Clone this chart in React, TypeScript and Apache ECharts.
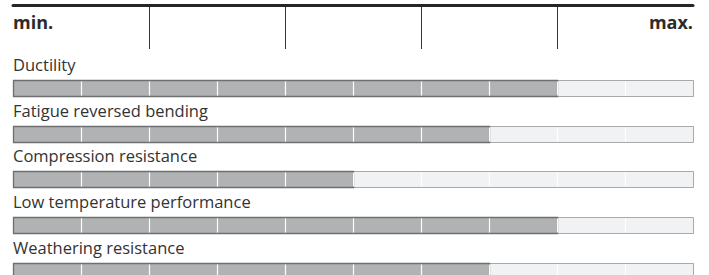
import React, { useEffect, useRef } from "react";
import * as echarts from "echarts";

const categories = [
  "Ductility",
  "Fatigue reversed bending",
  "Compression resistance",
  "Low temperature performance",
  "Weathering resistance",
];
const ratings = [8, 7, 5, 8, 7];
const scaleMin = 0;
const scaleMax = 10;
const tickLabels: Record<number, string> = { 0: "min.", 10: "max." };

const FONT = "'Open Sans', 'Noto Sans', sans-serif";

export default function App() {
  const ref = useRef<HTMLDivElement>(null);
  useEffect(() => {
    if (!ref.current) return;
    const chart = echarts.init(ref.current, null, { renderer: "svg" });
    const data = ratings.map((v, i) => [v, i]);
    chart.setOption({
      animation: false,
      grid: [
        { left: 13, right: 16, top: 5, height: 44 },
        { left: 13, right: 16, top: 65, bottom: 0 },
      ],
      xAxis: [
        {
          gridIndex: 0,
          type: "value",
          min: scaleMin,
          max: scaleMax,
          interval: 2,
          position: "top",
          axisLine: { show: true, onZero: false, lineStyle: { color: "#262626", width: 3 } },
          axisTick: { show: false },
          splitLine: {
            show: true,
            showMinLine: false,
            showMaxLine: false,
            lineStyle: { color: "#333333", width: 1 },
          },
          axisLabel: {
            inside: true,
            margin: 17,
            verticalAlign: "middle",
            alignMinLabel: "left",
            alignMaxLabel: "right",
            formatter: (v: number) => tickLabels[v] ?? "",
            fontFamily: FONT,
            fontWeight: "bold",
            fontSize: 18,
            color: "#2b2b2b",
          },
        },
        {
          gridIndex: 1,
          type: "value",
          min: scaleMin,
          max: scaleMax,
          show: false,
        },
      ],
      yAxis: [
        { gridIndex: 0, type: "value", show: false, min: 0, max: 1 },
        {
          gridIndex: 1,
          type: "value",
          inverse: true,
          min: -0.5,
          max: -0.5 + 210 / 45.75,
          show: false,
        },
      ],
      series: [
        {
          type: "custom",
          xAxisIndex: 1,
          yAxisIndex: 1,
          encode: { x: 0, y: 1 },
          clip: false,
          data,
          renderItem: (params: any, api: any) => {
            const v = api.value(0);
            const row = api.value(1);
            const p0 = api.coord([scaleMin, row]);
            const p10 = api.coord([scaleMax, row]);
            const pv = api.coord([v, row]);
            const h = 16;
            const top = Math.round(p0[1] - h / 2);
            const x0 = Math.round(p0[0]);
            const x10 = Math.round(p10[0]);
            const xv = Math.round(pv[0]);
            const children: any[] = [
              {
                type: "rect",
                shape: { x: x0 + 0.5, y: top + 0.5, width: x10 - x0, height: h },
                style: { fill: "#f1f2f3", stroke: "#a7a9ab", lineWidth: 1 },
              },
              {
                type: "rect",
                shape: { x: x0 + 0.5, y: top + 0.5, width: xv - x0, height: h },
                style: { fill: "#b1b2b4", stroke: "#6e6f71", lineWidth: 1.3 },
              },
            ];
            for (let k = scaleMin + 1; k < scaleMax; k++) {
              const xk = Math.round(api.coord([k, row])[0]) + 0.5;
              children.push({
                type: "line",
                shape: { x1: xk, y1: top + 1.5, x2: xk, y2: top + h - 0.5 },
                style: { stroke: "#ffffff", lineWidth: 1.2 },
              });
            }
            children.push({
              type: "text",
              x: x0,
              y: top - 16,
              style: {
                text: categories[row],
                fontFamily: FONT,
                fontSize: 16.5,
                fill: "#333333",
                verticalAlign: "middle",
                align: "left",
              },
            });
            return { type: "group", children };
          },
        },
      ],
    });
    return () => chart.dispose();
  }, []);
  return (
    <div
      ref={ref}
      style={{ position: "absolute", left: 0, top: 0, width: 709, height: 275, background: "#fff" }}
    />
  );
}
